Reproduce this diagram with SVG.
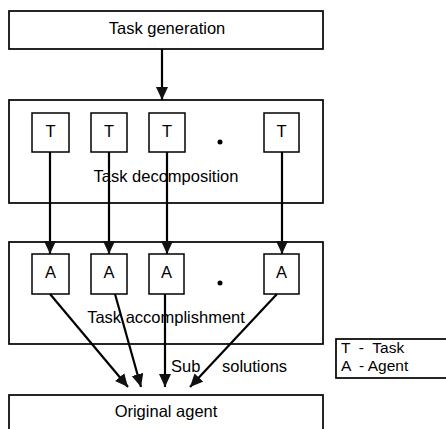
<svg xmlns="http://www.w3.org/2000/svg" width="446" height="429" viewBox="0 0 446 429">
  <style>
    .box { fill: #fff; stroke: #000; stroke-width: 1.7; }
    .small { fill: #fff; stroke: #000; stroke-width: 1.5; }
    .lbl { font-family: "Liberation Sans", Arial, sans-serif; font-size: 16.5px; fill: #000; }
    .key { font-size: 15.5px; }
    .mid { text-anchor: middle; }
    .conn { stroke: #000; stroke-width: 2.2; fill: none; marker-end: url(#head); }
  </style>
  <defs>
    <marker id="head" markerUnits="userSpaceOnUse" markerWidth="13" markerHeight="13" viewBox="0 0 13 13" refX="13" refY="6" orient="auto">
      <path d="M0,0 L13,6 L0,12 Z" fill="#111"/>
    </marker>
  </defs>
  <rect width="446" height="429" fill="#fff"/>

  <g id="task-generation">
    <rect class="box" x="9" y="11" width="314" height="38"/>
    <text class="lbl mid" x="167" y="34">Task generation</text>
  </g>

  <g id="task-decomposition">
    <rect class="box" x="9" y="100" width="314" height="103"/>
    <text class="lbl mid" x="166" y="182">Task decomposition</text>
  </g>

  <g id="t1"><rect class="small" x="32" y="113" width="37" height="39"/><text class="lbl mid" x="50.5" y="137">T</text></g>
  <g id="t2"><rect class="small" x="91" y="113" width="36" height="39"/><text class="lbl mid" x="109" y="137">T</text></g>
  <g id="t3"><rect class="small" x="149" y="113" width="36" height="39"/><text class="lbl mid" x="167" y="137">T</text></g>
  <g id="t-more"><circle cx="220" cy="142" r="2.5" fill="#000"/></g>
  <g id="t4"><rect class="small" x="264" y="113" width="35" height="39"/><text class="lbl mid" x="281.5" y="137">T</text></g>

  <g id="task-accomplishment">
    <rect class="box" x="9" y="242" width="314" height="102"/>
    <text class="lbl mid" x="166" y="323">Task accomplishment</text>
  </g>

  <g id="a1"><rect class="small" x="32" y="254" width="37" height="40"/><text class="lbl mid" x="50.5" y="278">A</text></g>
  <g id="a2"><rect class="small" x="91" y="254" width="36" height="40"/><text class="lbl mid" x="109" y="278">A</text></g>
  <g id="a3"><rect class="small" x="149" y="254" width="35" height="40"/><text class="lbl mid" x="166.5" y="278">A</text></g>
  <g id="a-more"><circle cx="220" cy="283" r="2.5" fill="#000"/></g>
  <g id="a4"><rect class="small" x="264" y="254" width="35" height="40"/><text class="lbl mid" x="281.5" y="278">A</text></g>

  <g id="original-agent">
    <rect class="box" x="9" y="395" width="314" height="40"/>
    <text class="lbl mid" x="166" y="417">Original agent</text>
  </g>

  <g id="legend">
    <rect class="box" x="336" y="339" width="116" height="39"/>
    <text class="lbl key" x="341" y="353" xml:space="preserve">T  -  Task</text>
    <text class="lbl key" x="341" y="371" xml:space="preserve">A  - Agent</text>
  </g>

  <g id="connectors">
    <line class="conn" x1="162" y1="49" x2="162" y2="100"/>
    <line class="conn" x1="50" y1="152" x2="50" y2="254"/>
    <line class="conn" x1="109" y1="152" x2="109" y2="254"/>
    <line class="conn" x1="167" y1="152" x2="167" y2="254"/>
    <line class="conn" x1="282" y1="152" x2="282" y2="254"/>
    <line class="conn" x1="50" y1="294" x2="128" y2="387"/>
    <line class="conn" x1="115" y1="294" x2="141" y2="387"/>
    <line class="conn" x1="165" y1="294" x2="165" y2="387"/>
    <line class="conn" x1="277" y1="294" x2="190" y2="387"/>
    <text class="lbl" x="171" y="372">Sub</text>
    <text class="lbl" x="222" y="372">solutions</text>
  </g>
</svg>
